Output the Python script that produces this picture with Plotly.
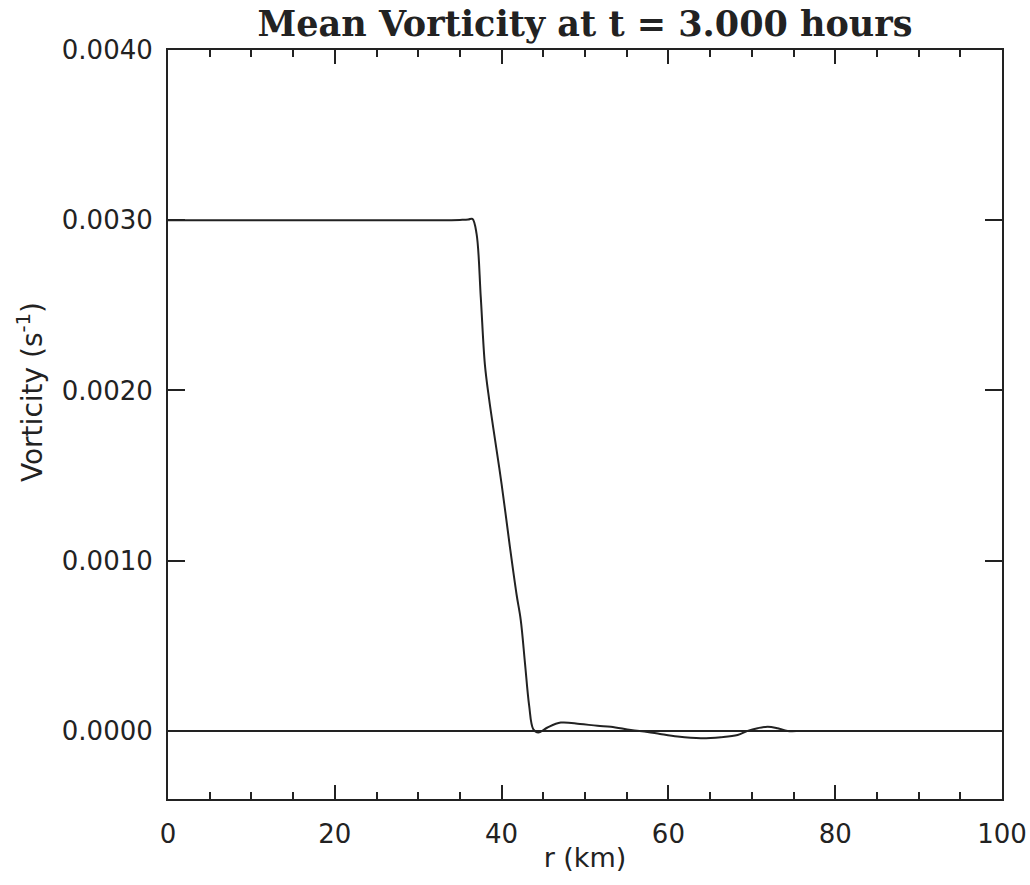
import plotly.graph_objects as go

# radius (km)
r_km = [0, 5, 10, 15, 20, 25, 30, 33, 35, 36, 36.5, 37.0, 37.5, 38.0, 38.5, 39.0,
        40.0, 41.0, 41.8, 42.3, 42.8, 43.3, 43.8, 44.4, 45.5, 47.1, 49.4, 51.5,
        53.1, 55.5, 57.5, 59.0, 61.1, 63.9, 66.3, 68.3, 69.5, 70.7, 71.9, 73.1,
        74.3, 76.0, 80.0, 90.0, 100.0]
# mean vorticity (s^-1)
vorticity = [0.00300, 0.00300, 0.00300, 0.00300, 0.00300, 0.00300, 0.00300, 0.00300,
             0.003002, 0.003004, 0.003008, 0.00292, 0.00255, 0.00215, 0.00195, 0.00178,
             0.00145, 0.00108, 0.00080, 0.00065, 0.00040, 0.00015, 0.00001, -0.00001,
             0.00002, 0.000049, 0.000041, 0.00003, 0.000025, 0.000006, -0.000006,
             -0.000018, -0.000033, -0.000043, -0.000037, -0.000024, 0.0, 0.000016,
             0.000025, 0.000016, 0.0, 0.0, 0.0, 0.0, 0.0]

x_ticks = [0, 20, 40, 60, 80, 100]
y_ticks = [0.0, 0.001, 0.002, 0.003, 0.004]
y_tick_labels = ["0.0000", "0.0010", "0.0020", "0.0030", "0.0040"]

fig = go.Figure()
fig.add_trace(go.Scatter(x=r_km, y=vorticity, mode="lines",
                         line=dict(color="#222", width=2), line_shape="spline",
                         showlegend=False, hoverinfo="skip"))

font_sans = "DejaVu Sans"
fig.update_layout(
    width=1030, height=885,
    margin=dict(l=168, r=28, t=50, b=86, autoexpand=False),
    paper_bgcolor="white", plot_bgcolor="white",
    title=dict(text="<b>Mean Vorticity at t = 3.000 hours</b>",
               font=dict(family="DejaVu Serif", size=35, color="#222"),
               x=0.5, xref="paper", y=1 - 24 / 885, yref="container",
               xanchor="center", yanchor="middle"),
    xaxis=dict(range=[0, 100], tickmode="array", tickvals=x_ticks,
               ticks="inside", ticklen=14, tickwidth=2, tickcolor="#222",
               minor=dict(dtick=5, ticks="inside", ticklen=7, tickwidth=2, tickcolor="#222"),
               showline=True, linecolor="#222", linewidth=2, mirror="ticks",
               showgrid=False, zeroline=False, automargin=False,
               tickfont=dict(family=font_sans, size=26, color="#222"),
               ticklabelstandoff=11,
               title=dict(text="r (km)", font=dict(family=font_sans, size=27, color="#222"),
                          standoff=0)),
    yaxis=dict(range=[-0.0004, 0.0040], tickmode="array", tickvals=y_ticks,
               ticktext=y_tick_labels,
               ticks="inside", ticklen=17, tickwidth=2, tickcolor="#222",
               showline=True, linecolor="#222", linewidth=2, mirror="ticks",
               showgrid=False, zeroline=True, zerolinecolor="#222", zerolinewidth=2,
               automargin=False,
               tickfont=dict(family=font_sans, size=26, color="#222"),
               ticklabelstandoff=8),
    annotations=[dict(text="Vorticity (s<sup>-1</sup>)", textangle=-90,
                      xref="paper", yref="paper",
                      x=-(168 - 30) / (1030 - 168 - 28),
                      y=(799 - 392) / (799 - 50),
                      xanchor="center", yanchor="middle", showarrow=False,
                      font=dict(family=font_sans, size=28, color="#222"))],
)

fig.write_html("out.html")
